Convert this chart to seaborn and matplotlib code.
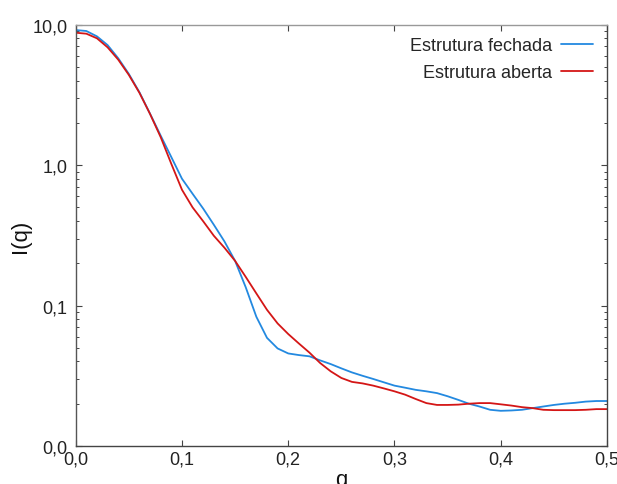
import matplotlib
matplotlib.use("Agg")
import matplotlib.pyplot as plt
from matplotlib.ticker import FuncFormatter, LogLocator, NullFormatter
import numpy as np
import pandas as pd
import seaborn as sns

q = [0.00, 0.01, 0.02, 0.03, 0.04, 0.05, 0.06, 0.07, 0.08, 0.09,
     0.10, 0.11, 0.12, 0.13, 0.14, 0.15, 0.16, 0.17, 0.18, 0.19,
     0.20, 0.21, 0.22, 0.23, 0.24, 0.25, 0.26, 0.27, 0.28, 0.29,
     0.30, 0.31, 0.32, 0.33, 0.34, 0.35, 0.36, 0.37, 0.38, 0.39,
     0.40, 0.41, 0.42, 0.43, 0.44, 0.45, 0.46, 0.47, 0.48, 0.49, 0.50]

fechada = [9.16, 9.02, 8.26, 7.16, 5.77, 4.46, 3.30, 2.32, 1.62, 1.14,
           0.800, 0.625, 0.490, 0.376, 0.286, 0.208, 0.135, 0.0832, 0.0589, 0.0495,
           0.0456, 0.0444, 0.0435, 0.0407, 0.0383, 0.0357, 0.0334, 0.0316, 0.0300, 0.0284,
           0.0269, 0.0260, 0.0251, 0.0245, 0.0238, 0.0226, 0.0213, 0.0200, 0.0191, 0.0181,
           0.0178, 0.0179, 0.0181, 0.0186, 0.0191, 0.0196, 0.0200, 0.0203, 0.0207, 0.0209, 0.0209]

aberta = [8.77, 8.63, 8.00, 6.90, 5.64, 4.39, 3.27, 2.31, 1.58, 1.02,
          0.668, 0.500, 0.398, 0.314, 0.258, 0.208, 0.160, 0.122, 0.0933, 0.0746,
          0.0627, 0.0537, 0.0462, 0.0390, 0.0340, 0.0305, 0.0286, 0.0279, 0.0269, 0.0257,
          0.0245, 0.0232, 0.0216, 0.0202, 0.0196, 0.0196, 0.0197, 0.0200, 0.0202, 0.0202,
          0.0198, 0.0194, 0.0189, 0.0186, 0.0181, 0.0180, 0.0180, 0.0180, 0.0181, 0.0183, 0.0183]

series_names = ["Estrutura fechada", "Estrutura aberta"]
series_colors = ["#2389E0", "#D41616"]
x_ticks = [0.0, 0.1, 0.2, 0.3, 0.4, 0.5]
y_ticks = [0.01, 0.1, 1.0, 10.0]

df = pd.concat([
    pd.DataFrame({"q": q, "I": fechada, "serie": series_names[0]}),
    pd.DataFrame({"q": q, "I": aberta, "serie": series_names[1]}),
], ignore_index=True)

sns.set_theme(style="white")
plt.rcParams["font.family"] = ["Liberation Sans", "DejaVu Sans"]

fig = plt.figure(figsize=(6.17, 4.85), dpi=100)
ax = fig.add_axes([0.1227, 0.0784, 0.8611, 0.8686])

sns.lineplot(data=df, x="q", y="I", hue="serie", palette=series_colors,
             hue_order=series_names, linewidth=1.3, ax=ax, sort=False)

ax.set_yscale("log")
ax.set_xlim(0, 0.5)
ax.set_ylim(0.01, 10)

fmt = FuncFormatter(lambda v, p: f"{v:.1f}".replace(".", ","))
ax.set_xticks(x_ticks)
ax.xaxis.set_major_formatter(fmt)
ax.set_yticks(y_ticks)
ax.yaxis.set_major_formatter(fmt)
ax.yaxis.set_minor_locator(LogLocator(base=10, subs=np.arange(2, 10), numticks=20))
ax.yaxis.set_minor_formatter(NullFormatter())

ax.tick_params(axis="both", which="both", direction="in", colors="#444444",
               labelcolor="#222222", labelsize=13)
ax.tick_params(axis="x", which="major", top=True, bottom=True, length=4, width=0.8, pad=3)
ax.tick_params(axis="y", which="major", left=True, right=True, length=4, width=0.8, pad=6)
ax.tick_params(axis="y", which="minor", left=True, right=True, length=2.5, width=0.7)
ax.tick_params(axis="x", which="minor", top=False, bottom=False)

for side, col in [("top", "#999999"), ("left", "#555555"), ("bottom", "#444444"), ("right", "#444444")]:
    ax.spines[side].set_color(col)
    ax.spines[side].set_linewidth(1.0)

ax.set_xlabel("q", fontsize=16, labelpad=1, color="#111111")
ax.set_ylabel("I(q)", fontsize=16, labelpad=1, color="#111111")

ax.legend(loc="upper right", bbox_to_anchor=(0.9737, 0.971), frameon=False,
          markerfirst=False, fontsize=13, handlelength=1.8, handletextpad=0.45,
          labelspacing=0.56, borderpad=0, borderaxespad=0, title=None)

fig.savefig("out.png", dpi=100)
